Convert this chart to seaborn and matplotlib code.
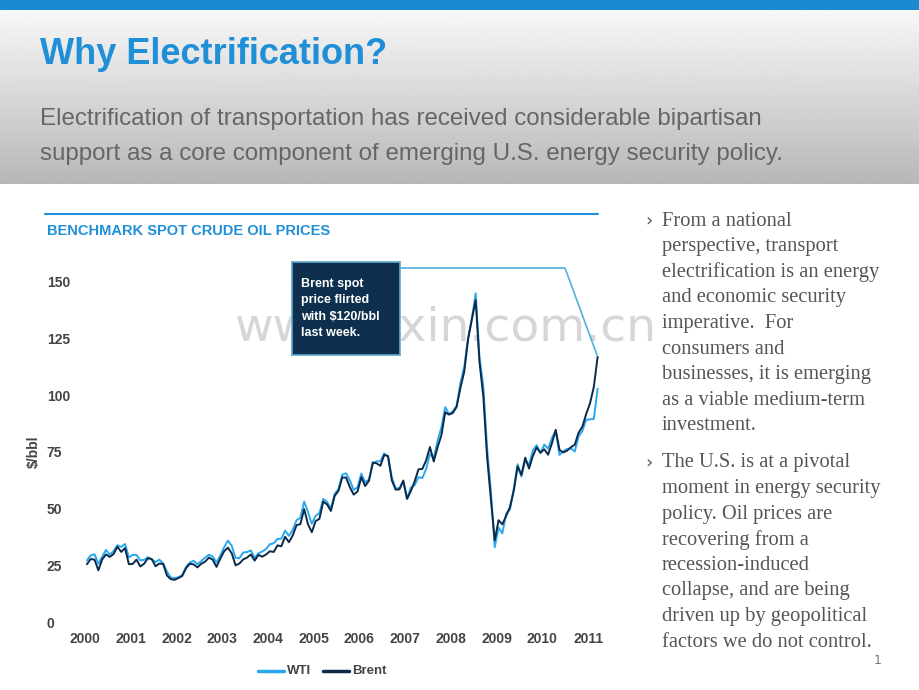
import numpy as np
import pandas as pd
import matplotlib
matplotlib.use("Agg")
import matplotlib.pyplot as plt
import seaborn as sns

brent = [25.5,27.8,27.5,22.8,27.6,29.8,28.7,30.0,33.2,30.9,32.6,25.5,
         25.6,27.5,24.5,25.7,28.1,27.8,24.6,25.8,25.6,20.5,18.9,18.6,
         19.4,20.3,23.7,25.7,25.4,24.1,25.7,26.6,28.4,27.5,24.3,28.0,
         31.2,32.8,30.3,25.0,25.8,27.6,28.4,29.8,27.1,29.6,28.8,29.8,
         31.2,30.9,33.8,33.4,37.6,35.2,38.2,42.7,43.2,49.8,43.1,39.6,
         44.5,45.5,53.1,51.9,49.0,55.6,57.9,63.8,63.7,59.4,56.2,57.6,
         63.9,60.0,62.3,70.4,70.0,68.9,73.7,73.2,62.5,58.4,58.5,62.4,
         54.3,57.8,62.1,67.4,67.5,71.3,77.2,70.8,77.1,82.3,92.5,91.5,
         92.2,94.9,103.3,110.4,124.6,133.5,142.0,114.6,99.6,72.7,54.0,36.0,
         44.9,43.1,46.8,50.8,57.9,68.6,64.9,72.5,67.7,73.2,77.0,74.7,
         76.2,73.8,78.8,84.8,75.9,74.8,75.6,77.1,78.2,83.5,86.2,91.8,
         96.5,103.7,117.0]
wti = [27.2,29.4,29.9,25.7,28.8,31.8,29.7,31.3,33.9,33.1,34.4,28.5,
       29.6,29.6,27.2,27.4,28.6,27.6,26.5,27.5,25.9,22.2,19.6,19.4,
       19.7,20.7,24.4,26.2,27.0,25.5,26.9,28.4,29.7,28.9,26.3,29.4,
       33.0,35.9,33.6,28.3,28.1,30.7,30.8,31.6,28.3,30.3,31.1,32.2,
       34.3,34.7,36.7,36.7,40.3,38.0,40.7,44.9,46.0,53.1,48.5,43.3,
       46.8,48.0,54.3,53.0,50.0,56.5,58.7,65.0,65.6,62.4,58.3,59.4,
       65.5,61.6,62.9,69.7,70.9,70.9,74.4,73.0,63.8,58.9,59.1,62.0,
       54.5,59.3,60.4,63.9,63.5,67.5,74.1,72.4,79.9,85.8,94.8,91.7,
       93.0,95.4,105.5,112.6,125.4,133.9,145.0,116.7,104.1,76.6,57.3,33.0,
       41.7,39.1,47.9,49.6,59.0,69.6,64.2,71.1,69.4,75.7,78.0,74.5,
       78.3,76.4,81.2,84.3,73.7,75.3,76.3,76.6,75.2,81.9,84.3,89.2,
       89.4,89.6,102.9]
years = list(range(2000, 2012))
yticks = [0, 25, 50, 75, 100, 125, 150]

n = len(brent)
x = 2000 + np.arange(n) / 12 + 1 / 24
df = pd.DataFrame({"x": np.concatenate([x, x]),
                   "y": wti + brent,
                   "s": ["WTI"] * n + ["Brent"] * n})

sns.set_theme(style="white")
fig = plt.figure(figsize=(9.2, 6.9), dpi=100)
W, H = 920, 690
def fy(p): return 1 - p / H
def fx(p): return p / W

bg = fig.add_axes([0, fy(184), 1, fy(10) - fy(184)])
grad = np.linspace(0.97, 0.72, 100).reshape(-1, 1)
bg.imshow(grad, aspect="auto", cmap="gray", vmin=0, vmax=1, extent=[0, 1, 0, 1])
bg.axis("off")
top = fig.add_axes([0, fy(10), 1, 10 / H])
top.set_facecolor("#1A8BD0"); top.set_xticks([]); top.set_yticks([])
for s in top.spines.values(): s.set_visible(False)

fig.text(fx(40), fy(55), "Why Electrification?", color="#1F8FD8", fontsize=26,
         fontweight="bold", va="center", family="Liberation Sans")
fig.text(fx(40), fy(119), "Electrification of transportation has received considerable bipartisan",
         color="#666666", fontsize=17.4, va="center", family="Liberation Sans")
fig.text(fx(40), fy(154), "support as a core component of emerging U.S. energy security policy.",
         color="#666666", fontsize=17.4, va="center", family="Liberation Sans")

fig.add_artist(plt.Line2D([fx(45), fx(598)], [fy(214), fy(214)], color="#1F8FD8", lw=1.5))
fig.text(fx(47), fy(231), "BENCHMARK SPOT CRUDE OIL PRICES", color="#1F8FD8", fontsize=10.5,
         fontweight="bold", va="center", family="Liberation Sans")

fig.text(fx(445), fy(328), "www.zixin.com.cn", fontsize=34, color="#BBBBBB", alpha=0.6,
         ha="center", va="center", zorder=0.5)

ax = fig.add_axes([fx(80), fy(622), fx(600) - fx(80), fy(255) - fy(622)])
ax.patch.set_alpha(0)
ax.set_zorder(1)
sns.lineplot(data=df, x="x", y="y", hue="s", palette={"WTI": "#29A8F0", "Brent": "#0B2A4A"},
             lw=1.4, ax=ax, legend=False)
ax.set_xlim(1999.89, 2011.26)
ax.set_ylim(0, 161.9)
ax.set_xticks(years)
ax.set_xticklabels([str(y) for y in years])
ax.set_yticks(yticks)
for s in ax.spines.values(): s.set_visible(False)
ax.tick_params(labelsize=10, colors="#444444", length=0, pad=2)
for t in ax.get_xticklabels() + ax.get_yticklabels():
    t.set_fontweight("bold"); t.set_family("Liberation Sans")
ax.set_xlabel(""); ax.set_ylabel("")
for t in ax.get_yticklabels(): t.set_ha("left")
ax.tick_params(axis="y", pad=24)
ax.tick_params(axis="x", pad=7)
fig.text(fx(34), fy(452), "$/bbl", rotation=90, fontsize=10, fontweight="bold",
         color="#444444", ha="center", va="center", family="Liberation Sans")

fig.add_artist(plt.Line2D([fx(258), fx(284)], [fy(671), fy(671)], color="#29A8F0", lw=2.5))
fig.text(fx(287), fy(671), "WTI", fontsize=9.5, fontweight="bold", color="#444444", va="center",
         family="Liberation Sans")
fig.add_artist(plt.Line2D([fx(323), fx(349)], [fy(671), fy(671)], color="#0B2A4A", lw=2.5))
fig.text(fx(352), fy(671), "Brent", fontsize=9.5, fontweight="bold", color="#444444", va="center",
         family="Liberation Sans")

fig.add_artist(plt.Line2D([fx(400), fx(565), fx(597)], [fy(268), fy(268), fy(355)],
                          color="#4FB3DA", lw=1.2))
box = fig.add_axes([fx(292), fy(355), fx(400) - fx(292), fy(262) - fy(355)])
box.set_zorder(5)
box.set_facecolor("#0E2F4D"); box.set_xticks([]); box.set_yticks([])
for s in box.spines.values(): s.set_edgecolor("#5FA8D0"); s.set_linewidth(1.2)
box.text(0.08, 0.5, "Brent spot\nprice flirted\nwith $120/bbl\nlast week.", color="white",
         fontsize=9, fontweight="bold", va="center", linespacing=1.45, family="Liberation Sans",
         transform=box.transAxes)

bul = [(221, ["From a national", "perspective, transport", "electrification is an energy",
              "and economic security", "imperative.  For", "consumers and",
              "businesses, it is emerging", "as a viable medium-term", "investment."]),
       (463, ["The U.S. is at a pivotal", "moment in energy security", "policy. Oil prices are",
              "recovering from a", "recession-induced", "collapse, and are being",
              "driven up by geopolitical", "factors we do not control."])]
for y0, lines in bul:
    fig.text(fx(645), fy(y0), "›", fontsize=13, color="#555555", va="center", family="DejaVu Sans")
    for i, l in enumerate(lines):
        fig.text(fx(662), fy(y0 + i * 25.6), l, fontsize=14.8, color="#555555", va="center",
                 family="Liberation Serif")
fig.text(fx(878), fy(661), "1", fontsize=9, color="#777777", ha="center", va="center")

fig.savefig("out.png", dpi=100)
